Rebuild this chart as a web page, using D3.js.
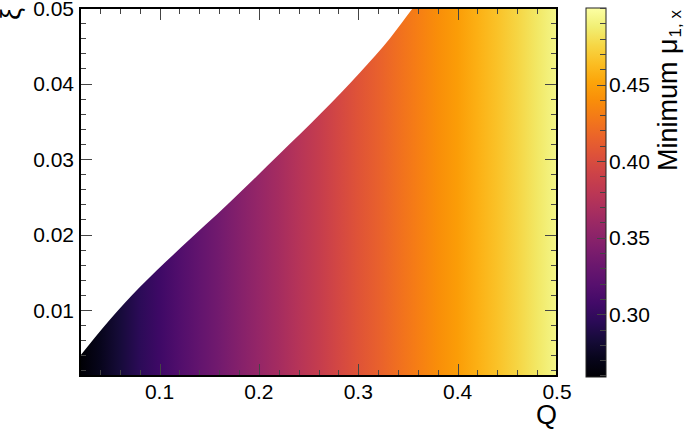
<!DOCTYPE html>
<html>
<head>
<meta charset="utf-8">
<script src="https://cdn.jsdelivr.net/npm/d3@7/dist/d3.min.js"></script>
<style>
body { margin: 0; background: #fff; }
svg { font-family: "Liberation Sans", Arial, Helvetica, sans-serif; }
</style>
</head>
<body>
<svg id="chart" width="685" height="429"></svg>
<script>
// Q columns and the minimum mu_{1,x}
const qGrid = [0.02, 0.04, 0.06, 0.08, 0.10, 0.12, 0.14, 0.16, 0.18, 0.20, 0.22, 0.24, 0.26,
               0.28, 0.30, 0.32, 0.34, 0.36, 0.38, 0.40, 0.42, 0.44, 0.46, 0.48, 0.50];
const muMin = [0.259, 0.271, 0.283, 0.295, 0.306, 0.316, 0.326, 0.336, 0.346, 0.356, 0.366, 0.376, 0.386,
               0.396, 0.405, 0.414, 0.423, 0.432, 0.440, 0.448, 0.457, 0.466, 0.475, 0.484, 0.493];

// upper edge of the filled region (xi max vs Q)
const edgeQ  = [0.020, 0.050, 0.080, 0.121, 0.171, 0.221, 0.262, 0.302, 0.332, 0.355, 0.380, 0.420, 0.500];
const edgeXi = [0.0039, 0.0087, 0.0130, 0.0182, 0.0243, 0.0307, 0.0360, 0.0415, 0.0460, 0.0500, 0.0540, 0.0590, 0.0680];

const xTicks = [0.1, 0.2, 0.3, 0.4, 0.5];
const yTicks = [0.01, 0.02, 0.03, 0.04, 0.05];
const zTicks = [0.30, 0.35, 0.40, 0.45];

const xDomain = [0.02, 0.5];
const yDomain = [0.00126, 0.05];
const zDomain = [0.259, 0.5];

const svg = d3.select('#chart');
const frame = {left: 80, right: 557, top: 8, bottom: 376};
const bar = {left: 586, right: 606, top: 8, bottom: 377};

const x = d3.scaleLinear().domain(xDomain).range([frame.left, frame.right]);
const y = d3.scaleLinear().domain(yDomain).range([frame.bottom, frame.top]);
const z = d3.scaleLinear().domain(zDomain).range([bar.bottom, bar.top]);
const color = d3.scaleSequential(d3.interpolateInferno).domain(zDomain);

const defs = svg.append('defs');
defs.append('clipPath').attr('id', 'plot-clip')
    .append('rect')
    .attr('x', frame.left).attr('y', frame.top)
    .attr('width', frame.right - frame.left).attr('height', frame.bottom - frame.top);

const fillGrad = defs.append('linearGradient')
    .attr('id', 'fill-grad')
    .attr('gradientUnits', 'userSpaceOnUse')
    .attr('x1', x(qGrid[0])).attr('x2', x(qGrid[qGrid.length - 1]))
    .attr('y1', 0).attr('y2', 0);
qGrid.forEach((q, i) => {
    fillGrad.append('stop')
        .attr('offset', (x(q) - x(qGrid[0])) / (x(qGrid[qGrid.length - 1]) - x(qGrid[0])))
        .attr('stop-color', color(muMin[i]));
});

const edge = edgeQ.map((q, i) => ({q, xi: edgeXi[i]}));
const area = d3.area()
    .curve(d3.curveMonotoneX)
    .x(d => x(d.q))
    .y0(y(yDomain[0]))
    .y1(d => y(d.xi));

svg.append('path')
    .datum(edge)
    .attr('clip-path', 'url(#plot-clip)')
    .attr('fill', 'url(#fill-grad)')
    .attr('d', area);

// ticks on all four sides, ROOT style
const tickColor = '#444';
const xMinor = d3.range(0.04, 0.5001, 0.02);
const yMinor = d3.range(0.002, 0.0501, 0.002);
const isMajor = (v, list) => list.some(t => Math.abs(t - v) < 1e-6);

const tickGroup = svg.append('g').attr('stroke', tickColor).attr('stroke-width', 1);
xMinor.forEach(v => {
    const len = isMajor(v, xTicks) ? 12 : 6;
    const px = Math.round(x(v)) + 0.5;
    tickGroup.append('line').attr('x1', px).attr('x2', px).attr('y1', frame.bottom).attr('y2', frame.bottom - len);
    tickGroup.append('line').attr('x1', px).attr('x2', px).attr('y1', frame.top).attr('y2', frame.top + len);
});
yMinor.forEach(v => {
    const len = isMajor(v, yTicks) ? 12 : 6;
    const py = Math.round(y(v)) + 0.5;
    tickGroup.append('line').attr('y1', py).attr('y2', py).attr('x1', frame.left).attr('x2', frame.left + len);
    tickGroup.append('line').attr('y1', py).attr('y2', py).attr('x1', frame.right).attr('x2', frame.right - len);
});

svg.append('rect')
    .attr('x', frame.left).attr('y', frame.top)
    .attr('width', frame.right - frame.left).attr('height', frame.bottom - frame.top)
    .attr('fill', 'none').attr('stroke', '#000').attr('stroke-width', 2);

// tick labels
svg.append('g').selectAll('text')
    .data(xTicks).enter().append('text')
    .attr('x', d => x(d)).attr('y', 399)
    .attr('text-anchor', 'middle')
    .attr('font-size', 21)
    .text(d => d3.format('.1f')(d));

svg.append('g').selectAll('text')
    .data(yTicks).enter().append('text')
    .attr('x', 74).attr('y', d => y(d))
    .attr('dy', '0.36em')
    .attr('text-anchor', 'end')
    .attr('font-size', 21)
    .text(d => d3.format('.2f')(d));

svg.append('text')
    .attr('x', frame.right).attr('y', 424)
    .attr('text-anchor', 'end')
    .attr('font-size', 27)
    .text('Q');

svg.append('text')
    .attr('transform', `translate(20,${frame.top}) rotate(-90)`)
    .attr('text-anchor', 'end')
    .attr('font-size', 27)
    .text('ξ');

// colour bar
const barGrad = defs.append('linearGradient')
    .attr('id', 'bar-grad')
    .attr('x1', 0).attr('x2', 0).attr('y1', 1).attr('y2', 0);
d3.range(0, 1.0001, 0.05).forEach(t => {
    barGrad.append('stop').attr('offset', t).attr('stop-color', d3.interpolateInferno(t));
});
svg.append('rect')
    .attr('x', bar.left).attr('y', bar.top)
    .attr('width', bar.right - bar.left).attr('height', bar.bottom - bar.top)
    .attr('fill', 'url(#bar-grad)')
    .attr('stroke', '#222').attr('stroke-width', 1);

const zMinor = d3.range(0.26, 0.5001, 0.01);
const barTicks = svg.append('g').attr('stroke', tickColor).attr('stroke-width', 1);
zMinor.forEach(v => {
    const len = isMajor(v, zTicks) ? 9 : 6;
    const py = Math.round(z(v)) + 0.5;
    barTicks.append('line').attr('y1', py).attr('y2', py).attr('x1', bar.right).attr('x2', bar.right - len);
});

svg.append('g').selectAll('text')
    .data(zTicks).enter().append('text')
    .attr('x', 609).attr('y', d => z(d))
    .attr('dy', '0.36em')
    .attr('font-size', 21)
    .text(d => d3.format('.2f')(d));

const zTitle = svg.append('text')
    .attr('transform', `translate(677,${frame.top + 2}) rotate(-90)`)
    .attr('text-anchor', 'end')
    .attr('font-size', 27);
zTitle.append('tspan').text('Minimum μ');
zTitle.append('tspan').attr('font-size', 17).attr('dx', 1).attr('dy', '0.25em').text('1, x');
</script>
</body>
</html>
